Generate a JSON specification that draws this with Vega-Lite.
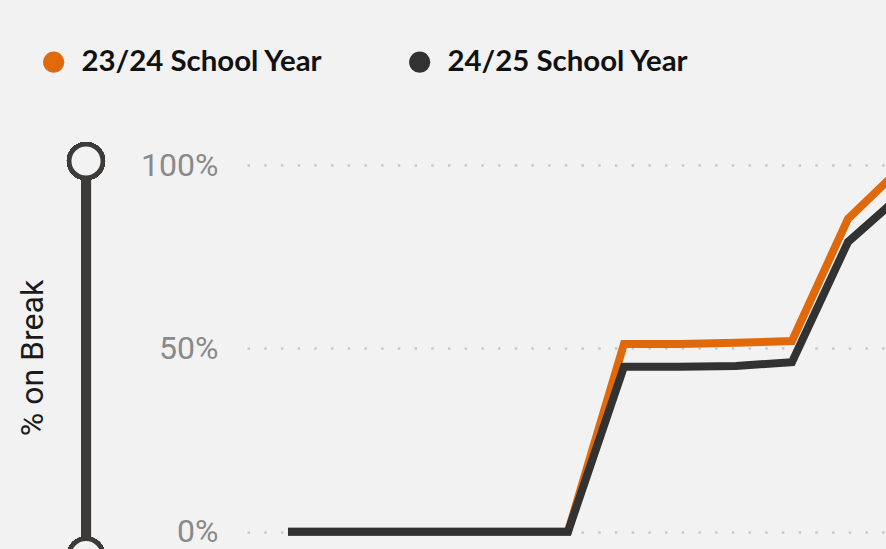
{
  "$schema": "https://vega.github.io/schema/vega-lite/v6.json",
  "autosize": "none",
  "padding": {"left": 247, "top": 165, "right": 0, "bottom": 0},
  "width": 639,
  "height": 385,
  "background": "#f2f2f2",
  "config": {
    "view": {"stroke": null},
    "font": "Roboto"
  },
  "data": {
    "values": [
      {"week": 1, "series": "23/24 School Year", "pct": 0},
      {"week": 2, "series": "23/24 School Year", "pct": 0},
      {"week": 3, "series": "23/24 School Year", "pct": 0},
      {"week": 4, "series": "23/24 School Year", "pct": 0},
      {"week": 5, "series": "23/24 School Year", "pct": 0},
      {"week": 6, "series": "23/24 School Year", "pct": 0},
      {"week": 7, "series": "23/24 School Year", "pct": 0.512},
      {"week": 8, "series": "23/24 School Year", "pct": 0.512},
      {"week": 9, "series": "23/24 School Year", "pct": 0.515},
      {"week": 10, "series": "23/24 School Year", "pct": 0.52},
      {"week": 11, "series": "23/24 School Year", "pct": 0.853},
      {"week": 12, "series": "23/24 School Year", "pct": 1.0},
      {"week": 1, "series": "24/25 School Year", "pct": 0},
      {"week": 2, "series": "24/25 School Year", "pct": 0},
      {"week": 3, "series": "24/25 School Year", "pct": 0},
      {"week": 4, "series": "24/25 School Year", "pct": 0},
      {"week": 5, "series": "24/25 School Year", "pct": 0},
      {"week": 6, "series": "24/25 School Year", "pct": 0},
      {"week": 7, "series": "24/25 School Year", "pct": 0.45},
      {"week": 8, "series": "24/25 School Year", "pct": 0.45},
      {"week": 9, "series": "24/25 School Year", "pct": 0.452},
      {"week": 10, "series": "24/25 School Year", "pct": 0.462},
      {"week": 11, "series": "24/25 School Year", "pct": 0.79},
      {"week": 12, "series": "24/25 School Year", "pct": 0.925}
    ]
  },
  "layer": [
    {
      "mark": {"type": "line", "strokeWidth": 8, "clip": true, "strokeJoin": "miter"},
      "encoding": {
        "x": {
          "field": "week", "type": "quantitative",
          "scale": {"domain": [0.268, 11.679], "nice": false, "zero": false},
          "axis": null
        },
        "y": {
          "field": "pct", "type": "quantitative",
          "scale": {"domain": [-0.05, 1], "nice": false, "zero": false},
          "axis": {
            "values": [0, 0.5, 1],
            "format": ".0%",
            "title": "% on Break",
            "domain": false,
            "ticks": false,
            "labelFont": "Roboto",
            "labelFontSize": 32,
            "labelColor": "#8a8a8a",
            "labelPadding": 29,
            "titleFont": "Roboto",
            "titleFontSize": 32,
            "titleFontWeight": "normal",
            "titleColor": "#1a1a1a",
            "titlePadding": 91,
            "gridColor": "#c8c8c8",
            "gridWidth": 2.5,
            "gridDash": [2.5, 14.2]
          }
        },
        "color": {
          "field": "series", "type": "nominal",
          "scale": {"domain": ["23/24 School Year", "24/25 School Year"], "range": ["#e0690b", "#323232"]},
          "legend": {
            "title": null,
            "orient": "none",
            "legendX": -208,
            "legendY": -118,
            "direction": "horizontal",
            "symbolType": "circle",
            "symbolSize": 450,
            "symbolStrokeWidth": 0,
            "labelFont": "Lato",
            "labelFontWeight": "bold",
            "labelFontSize": 29.4,
            "labelColor": "#111111",
            "labelOffset": 13,
            "columnPadding": 82,
            "labelLimit": 400,
            "encode": {
              "symbols": {"update": {"fill": {"scale": "color", "field": "value"}, "opacity": {"value": 1}}}
            }
          }
        },
        "order": {"field": "week", "type": "quantitative"}
      }
    },
    {
      "mark": {"type": "rule", "strokeWidth": 10, "color": "#3d3b39"},
      "encoding": {
        "x": {"datum": -2.607, "type": "quantitative"},
        "y": {"datum": 1.011, "type": "quantitative"},
        "y2": {"datum": -0.08}
      }
    },
    {
      "mark": {"type": "point", "filled": false, "shape": "circle", "size": 1130, "strokeWidth": 4.5, "color": "#3d3b39", "fill": "#f2f2f2", "opacity": 1},
      "encoding": {
        "x": {"datum": -2.607, "type": "quantitative"},
        "y": {"datum": 1.011, "type": "quantitative"}
      }
    },
    {
      "mark": {"type": "point", "filled": false, "shape": "circle", "size": 1130, "strokeWidth": 4.5, "color": "#3d3b39", "fill": "#f2f2f2", "opacity": 1},
      "encoding": {
        "x": {"datum": -2.607, "type": "quantitative"},
        "y": {"datum": -0.065, "type": "quantitative"}
      }
    }
  ]
}
